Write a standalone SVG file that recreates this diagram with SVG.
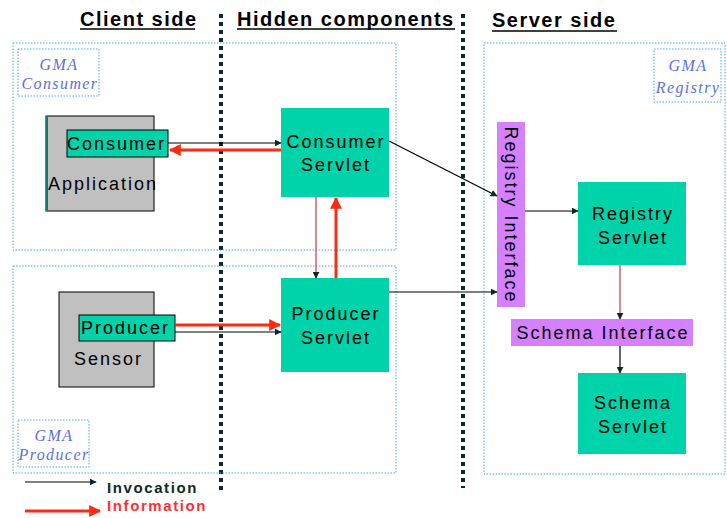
<svg xmlns="http://www.w3.org/2000/svg" width="727" height="518" viewBox="0 0 727 518">
<defs>
  <marker id="ah" viewBox="0 0 10 10" refX="9" refY="5" markerWidth="7" markerHeight="7" markerUnits="userSpaceOnUse" orient="auto">
    <path d="M0,0 L10,5 L0,10 z" fill="#0a2a2a"/>
  </marker>
  <marker id="ahr" viewBox="0 0 10 10" refX="9" refY="5" markerWidth="12" markerHeight="12" markerUnits="userSpaceOnUse" orient="auto">
    <path d="M0,0 L10,5 L0,10 z" fill="#ff2a10"/>
  </marker>
</defs>
<style>
  .title{font-family:"Liberation Sans",Arial,sans-serif;font-size:20px;font-weight:bold;fill:#000;letter-spacing:1.5px}
  .ul{stroke:#000;stroke-width:1.5}
  .sep{stroke:#0a2a2a;stroke-width:4;stroke-dasharray:4 4}
  .grp{fill:none;stroke:#4aa8ff;stroke-width:1;stroke-dasharray:1.5 1.5}
  .tag{fill:none;stroke:#4aa8ff;stroke-width:1;stroke-dasharray:1.5 1.5}
  .gma{font-family:"Liberation Serif","Times New Roman",serif;font-style:italic;font-size:16px;fill:#5a70e0;text-anchor:middle;letter-spacing:1.4px}
  .gray{fill:#c0c0c0;stroke:#000;stroke-width:1}
  .teal{fill:#00d3aa}
  .tealb{fill:#00d3aa;stroke:#000;stroke-width:1}
  .purple{fill:#d580ff}
  .lbl{font-family:"Liberation Sans",Arial,sans-serif;font-size:18px;fill:#000;letter-spacing:2px}
  .mid{text-anchor:middle}
  .blk{stroke:#000;stroke-width:1.2;fill:none}
  .red{stroke:#ff2a10;stroke-width:3;fill:none}
  .thinred{stroke:#d03838;stroke-width:1.2;fill:none}
  .leg{font-family:"Liberation Sans",Arial,sans-serif;font-size:15px;font-weight:bold;letter-spacing:1.6px}
</style>
<rect width="727" height="518" fill="#fff"/>

<!-- column headings -->
<g id="headings">
  <text class="title" x="80" y="26">Client side</text>
  <line class="ul" x1="80" y1="29" x2="195" y2="29"/>
  <text class="title" x="237" y="26">Hidden components</text>
  <line class="ul" x1="237" y1="29" x2="455" y2="29"/>
  <text class="title" x="492" y="27">Server side</text>
  <line class="ul" x1="492" y1="31" x2="617" y2="31"/>
</g>

<!-- region separators -->
<g id="separators">
  <line class="sep" x1="221" y1="14" x2="221" y2="490"/>
  <line class="sep" x1="463" y1="14" x2="463" y2="488"/>
</g>

<!-- GMA groups -->
<g id="gma-consumer">
  <rect class="grp" x="13" y="43" width="383" height="207"/>
  <rect class="tag" x="18" y="49" width="81" height="47"/>
  <text class="gma" x="59" y="70">GMA</text>
  <text class="gma" x="60" y="89">Consumer</text>
</g>
<g id="gma-producer">
  <rect class="grp" x="13" y="266" width="383" height="207"/>
  <rect class="tag" x="18" y="420" width="71" height="47"/>
  <text class="gma" x="54" y="441">GMA</text>
  <text class="gma" x="54" y="460">Producer</text>
</g>
<g id="gma-registry">
  <rect class="grp" x="484" y="43" width="241" height="431"/>
  <rect class="tag" x="654" y="49" width="67" height="53"/>
  <text class="gma" x="688" y="71">GMA</text>
  <text class="gma" x="688" y="93">Registry</text>
</g>

<!-- client side nodes -->
<g id="consumer-application">
  <rect class="gray" x="46" y="116" width="108" height="95"/>
  <line x1="47" y1="116" x2="47" y2="211" stroke="#0a7a7a" stroke-width="2"/>
  <rect class="tealb" x="67" y="130" width="101" height="27"/>
  <text class="lbl" x="67" y="150">Consumer</text>
  <text class="lbl" x="48" y="190">Application</text>
</g>
<g id="producer-sensor">
  <rect class="gray" x="59" y="292" width="95" height="95"/>
  <rect class="tealb" x="79" y="315" width="96" height="26"/>
  <text class="lbl" x="81" y="334">Producer</text>
  <text class="lbl" x="74" y="365">Sensor</text>
</g>

<!-- hidden components -->
<g id="consumer-servlet">
  <rect class="teal" x="281" y="108" width="108" height="89"/>
  <text class="lbl mid" x="336" y="148">Consumer</text>
  <text class="lbl mid" x="336" y="171">Servlet</text>
</g>
<g id="producer-servlet">
  <rect class="teal" x="281" y="278" width="108" height="94"/>
  <text class="lbl mid" x="336" y="320">Producer</text>
  <text class="lbl mid" x="336" y="344">Servlet</text>
</g>

<!-- server side -->
<g id="registry-interface">
  <rect class="purple" x="497" y="122" width="28" height="185"/>
  <text class="lbl mid" transform="translate(505,215) rotate(90)">Registry Interface</text>
</g>
<g id="registry-servlet">
  <rect class="teal" x="578" y="182" width="108" height="83"/>
  <text class="lbl mid" x="633" y="220">Registry</text>
  <text class="lbl mid" x="633" y="244">Servlet</text>
</g>
<g id="schema-interface">
  <rect class="purple" x="511" y="319" width="182" height="27"/>
  <text class="lbl mid" x="603" y="339">Schema Interface</text>
</g>
<g id="schema-servlet">
  <rect class="teal" x="578" y="373" width="108" height="81"/>
  <text class="lbl mid" x="633" y="409">Schema</text>
  <text class="lbl mid" x="633" y="433">Servlet</text>
</g>

<!-- connectors -->
<g id="connectors">
  <line class="blk" x1="168" y1="143" x2="281" y2="143" marker-end="url(#ah)"/>
  <line class="red" x1="281" y1="150" x2="170" y2="150" marker-end="url(#ahr)"/>
  <line class="blk" x1="389" y1="141" x2="497" y2="196" marker-end="url(#ah)"/>
  <line class="thinred" x1="316" y1="197" x2="316" y2="278" marker-end="url(#ah)"/>
  <line class="red" x1="336" y1="278" x2="336" y2="198" marker-end="url(#ahr)"/>
  <line class="red" x1="175" y1="325" x2="280" y2="325" marker-end="url(#ahr)"/>
  <line class="blk" x1="175" y1="332" x2="281" y2="332" marker-end="url(#ah)"/>
  <line class="blk" x1="389" y1="292" x2="497" y2="292" marker-end="url(#ah)"/>
  <line class="blk" x1="525" y1="211" x2="578" y2="211" marker-end="url(#ah)"/>
  <line class="thinred" x1="620" y1="265" x2="620" y2="319" marker-end="url(#ah)"/>
  <line class="blk" x1="620" y1="346" x2="620" y2="373" marker-end="url(#ah)"/>
</g>

<!-- legend -->
<g id="legend">
  <line class="blk" x1="25" y1="482" x2="96" y2="482" marker-end="url(#ah)"/>
  <text class="leg" x="107" y="493" fill="#0a2a2a">Invocation</text>
  <line class="red" x1="25" y1="511" x2="100" y2="511" marker-end="url(#ahr)"/>
  <text class="leg" x="107" y="511" fill="#ff3030">Information</text>
</g>
</svg>
